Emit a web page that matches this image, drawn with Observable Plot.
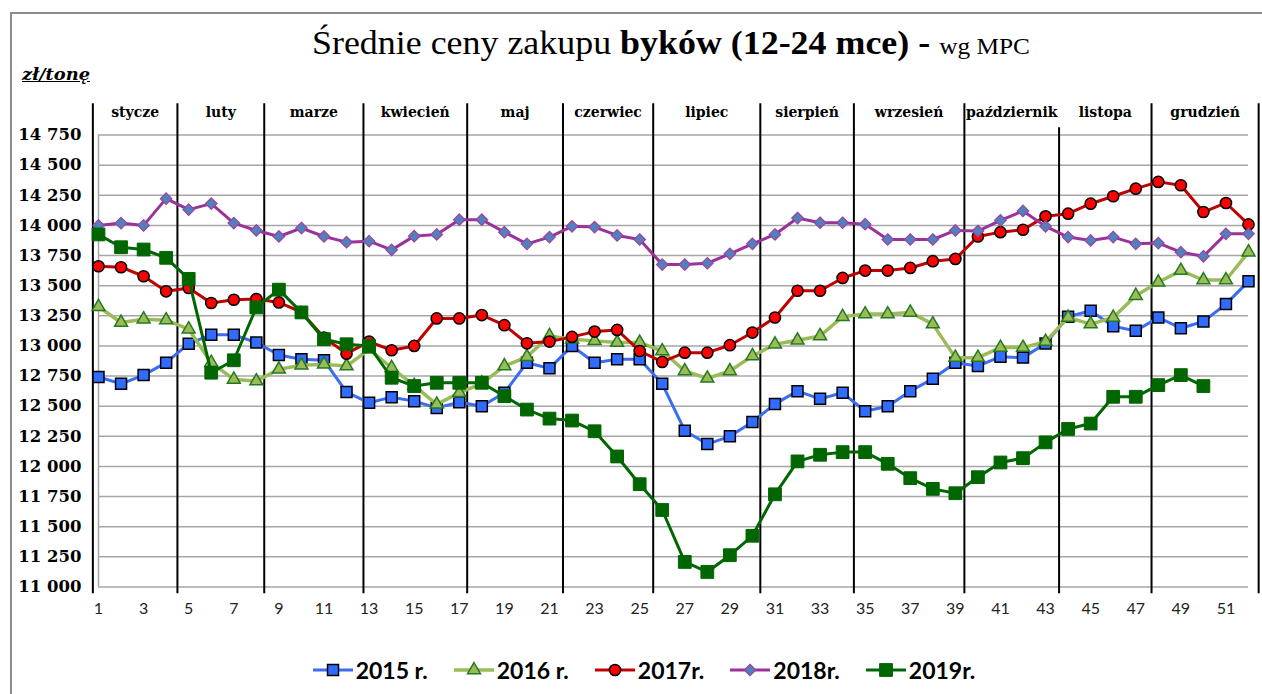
<!DOCTYPE html>
<html><head><meta charset="utf-8">
<script src="https://cdn.jsdelivr.net/npm/d3@7"></script>
<script src="https://cdn.jsdelivr.net/npm/@observablehq/plot@0.6"></script>
<style>
body{margin:0;background:#fff;}
#wrap{position:relative;width:1262px;height:694px;overflow:hidden;background:#fff;}
#frame{position:absolute;left:10px;top:12px;width:1300px;height:720px;border-left:2px solid #8c8c8c;border-top:2px solid #8c8c8c;}
#chart{position:absolute;left:0;top:0;}
#title{position:absolute;top:24px;left:312px;white-space:nowrap;font-family:"Liberation Serif",serif;font-size:34px;color:#000;transform-origin:0 0;}
#unit{position:absolute;left:22px;top:64px;font-family:"DejaVu Serif",serif;font-weight:bold;font-style:italic;font-size:17px;text-decoration:underline;color:#000;transform-origin:0 0;}
#legend{position:absolute;top:656px;left:0;width:1288px;display:flex;justify-content:center;align-items:center;gap:26px;font-family:Lato,sans-serif;font-weight:bold;font-size:23px;color:#000;}
.item{display:flex;align-items:center;gap:3px;}
</style></head>
<body>
<div id="wrap">
  <div id="frame"></div>
  <div id="chart"></div>
  <div id="title">Średnie ceny zakupu <b>byków (12-24 mce)</b> <b>-</b> <span style="font-size:24px">wg MPC</span></div>
  <div id="unit">zł/tonę</div>
  <div id="legend"></div>
</div>
<script>
const weeks = d3.range(1, 53);
const xTickWeeks = d3.range(1, 53, 2);
const yTicks = d3.range(11000, 14751, 250);
const months = ["stycze","luty","marze","kwiecień","maj","czerwiec","lipiec","sierpień","wrzesień","październik","listopa","grudzień"];
const monthBounds = [0.75, 4.5, 8.35, 12.75, 17.35, 21.6, 25.6, 30.35, 34.5, 39.4, 43.6, 47.7, 52.45];
const monthBoundTops = [15010, 15010, 15010, 15010, 15010, 15010, 15010, 15010, 15010, 15010, 14810, 15010, 15010];
const monthBoundBottom = 10945;

const seriesNames = ["2015 r.", "2016 r.", "2017r.", "2018r.", "2019r."];

const p2015 = [12742,12686,12758,12861,13019,13092,13092,13028,12925,12889,12881,12617,12528,12575,12542,12486,12533,12500,12611,12861,12814,13000,12861,12889,12889,12686,12297,12186,12250,12369,12519,12625,12561,12611,12458,12500,12625,12728,12861,12833,12911,12903,13020,13242,13292,13164,13125,13236,13147,13203,13347,13536];
const p2016 = [13325,13194,13222,13214,13139,12861,12722,12708,12806,12839,12847,12833,12972,12819,12670,12515,12611,12690,12833,12910,13083,13056,13042,13028,13028,12958,12792,12731,12792,12917,13014,13047,13083,13242,13264,13264,13278,13181,12903,12903,12986,12986,13036,13236,13181,13236,13417,13528,13625,13547,13547,13778];
const p2017 = [13661,13653,13578,13453,13481,13356,13383,13389,13361,13280,13070,12936,13036,12964,13000,13228,13228,13256,13172,13022,13036,13075,13119,13133,12958,12867,12944,12944,13006,13111,13236,13458,13458,13564,13625,13625,13647,13703,13722,13908,13944,13964,14075,14097,14180,14242,14305,14361,14333,14111,14186,14008];
const p2018 = [14000,14019,14000,14222,14131,14181,14019,13958,13908,13978,13908,13861,13869,13797,13911,13925,14047,14047,13944,13847,13903,13992,13986,13917,13883,13675,13675,13686,13764,13847,13925,14061,14022,14022,14010,13883,13883,13883,13958,13953,14042,14120,13992,13903,13875,13903,13847,13853,13778,13744,13930,13930];
const p2019 = [13925,13819,13800,13731,13556,12778,12881,13319,13467,13278,13056,13014,13000,12736,12667,12694,12694,12694,12583,12472,12397,12381,12292,12083,11853,11639,11208,11125,11264,11425,11769,12042,12097,12119,12119,12022,11903,11814,11778,11911,12033,12069,12200,12311,12356,12578,12578,12675,12758,12667];

const seriesValues = [p2015, p2016, p2017, p2018, p2019];
const styles = [
  {line:"#3a6cf4", lw:3,   symbol:"square",   r:6.2, fill:"#2f6cff", stroke:"#000",    sw:1.5},
  {line:"#9bbb59", lw:3.5, symbol:"triangle", r:4.8, fill:"#9bbb59", stroke:"#237a1e", sw:1.5},
  {line:"#c00000", lw:3,   symbol:"circle",   r:5.6, fill:"#ff0000", stroke:"#000",    sw:1.5},
  {line:"#993399", lw:3,   symbol:"diamond2", r:5.2, fill:"#4f81bd", stroke:"#a040a0", sw:1.2},
  {line:"#006600", lw:3,   symbol:"square",   r:7.2, fill:"#006600", stroke:"#006600", sw:1}
];

const fmt = v => d3.format(",")(v).replace(/,/g, " ");

const marks = [
  Plot.ruleY(yTicks, {y: d => d, stroke: "#a6a6a6", strokeWidth: 1.5}),
  Plot.ruleX([1], {x: d => d, y1: () => 11000, y2: () => 14750, stroke: "#a6a6a6", strokeWidth: 1.5}),
  Plot.ruleX(monthBounds, {x: d => d, y1: () => monthBoundBottom, y2: (d, i) => monthBoundTops[i], stroke: "#000", strokeWidth: 2}),
  Plot.text(months, {x: (d, i) => (monthBounds[i] + monthBounds[i + 1]) / 2, y: () => 14750, dy: -22, text: d => d,
    fontFamily: "DejaVu Serif", fontWeight: "bold", fontSize: 14, fill: "#000"}),
  Plot.text(yTicks, {x: () => 1, y: d => d, dx: -17, textAnchor: "end", text: fmt,
    fontFamily: "DejaVu Serif", fontWeight: "bold", fontSize: 16.5, fill: "#000"}),
  Plot.text(xTickWeeks, {x: d => d, y: () => 11000, dy: 22, text: d => String(d),
    fontFamily: "Lato", fontSize: 16, fill: "#222"})
];

seriesNames.forEach((name, k) => {
  const s = styles[k];
  const rows = seriesValues[k].map((v, i) => ({week: weeks[i], value: v}));
  marks.push(Plot.line(rows, {x: "week", y: "value", stroke: s.line, strokeWidth: s.lw}));
  marks.push(Plot.dot(rows, {x: "week", y: "value", symbol: s.symbol, r: s.r, fill: s.fill, stroke: s.stroke, strokeWidth: s.sw}));
});

const chart = Plot.plot({
  width: 1262, height: 694,
  marginLeft: 98, marginRight: 14, marginTop: 134.5, marginBottom: 107.5,
  x: {domain: [1, 52], axis: null},
  y: {domain: [11000, 14750], axis: null},
  style: {background: "transparent", overflow: "visible"},
  marks
});
document.getElementById("chart").appendChild(chart);

// legend
const symMap = {square: d3.symbolSquare, triangle: d3.symbolTriangle, circle: d3.symbolCircle, diamond2: d3.symbolDiamond2};
const legend = d3.select("#legend");
seriesNames.forEach((name, k) => {
  const s = styles[k];
  const it = legend.append("div").attr("class", "item");
  const svg = it.append("svg").attr("width", 40).attr("height", 20);
  svg.append("line").attr("x1", 0).attr("x2", 40).attr("y1", 10).attr("y2", 10).attr("stroke", s.line).attr("stroke-width", s.lw);
  svg.append("path").attr("transform", "translate(20,10)")
    .attr("d", d3.symbol(symMap[s.symbol], s.r * s.r * Math.PI)())
    .attr("fill", s.fill).attr("stroke", s.stroke).attr("stroke-width", s.sw);
  it.append("span").text(name);
});

// fit title and unit widths
const t = document.getElementById("title");
t.style.transform = `scaleX(${718 / t.getBoundingClientRect().width})`;
const u = document.getElementById("unit");
u.style.transform = `scaleX(${68 / u.getBoundingClientRect().width})`;
</script>
</body></html>
